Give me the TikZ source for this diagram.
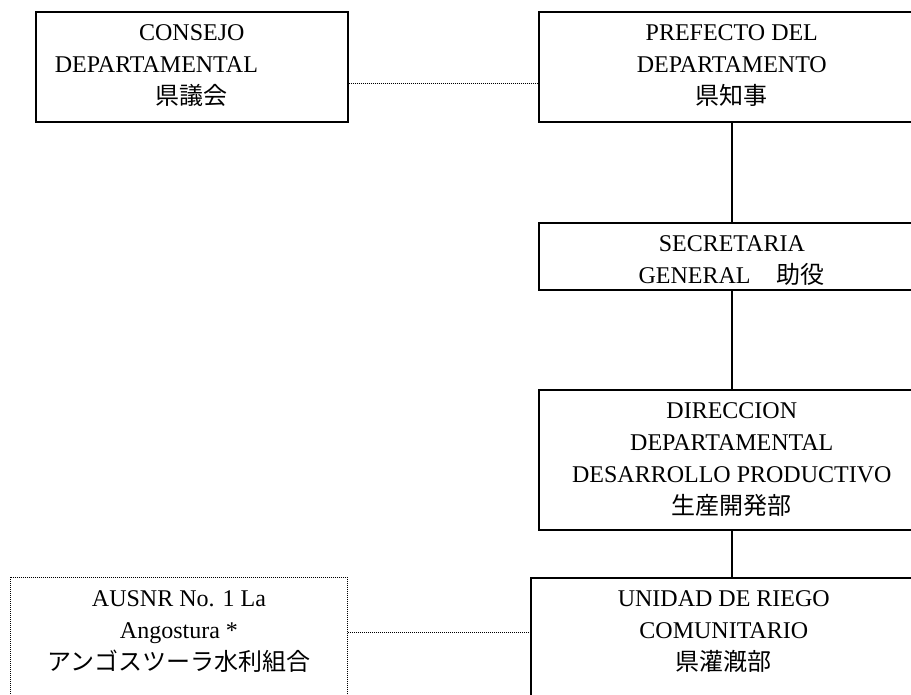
\documentclass[tikz,border=0pt]{standalone}
\usepackage{fontspec}
\setmainfont{Liberation Serif}
\newfontfamily\jp{Noto Sans CJK JP}
\usetikzlibrary{positioning}

\tikzset{
  orgbox/.style={draw, line width=1.6pt, anchor=north west, inner sep=0pt},
  userbox/.style={draw, line width=0.9pt, dash pattern=on 1pt off 1pt, anchor=north west, inner sep=0pt},
  boxtext/.style={align=center, font=\fontsize{24}{32}\selectfont, inner sep=0pt, anchor=north},
  mainlink/.style={line width=1.6pt},
  dotlink/.style={line width=0.9pt, dash pattern=on 1pt off 1pt},
}

\begin{document}
\begin{tikzpicture}[x=1pt,y=-1pt]
\useasboundingbox (0,0) rectangle (911,694);

% Upper row
\node[orgbox, minimum width=312, minimum height=110] (consejo) at (35,11) {};
\node[boxtext, below=13pt of consejo.north] (consejo-txt)
  {CONSEJO\\\makebox[274pt][l]{DEPARTAMENTAL}\\{\jp 県議会}};

\node[orgbox, minimum width=386, minimum height=110] (prefecto) at (538,11) {};
\node[boxtext, below=13pt of prefecto.north] (prefecto-txt)
  {PREFECTO DEL\\DEPARTAMENTO\\{\jp 県知事}};

% Middle chain
\node[orgbox, minimum width=386, minimum height=67] (secretaria) at (538,222) {};
\node[boxtext, below=13pt of secretaria.north] (secretaria-txt)
  {SECRETARIA\\GENERAL\hspace{1.1em}{\jp 助役}};

\node[orgbox, minimum width=386, minimum height=140] (direccion) at (538,389) {};
\node[boxtext, below=13pt of direccion.north] (direccion-txt)
  {DIRECCION\\DEPARTAMENTAL\\DESARROLLO PRODUCTIVO\\{\jp 生産開発部}};

% Lower row
\node[orgbox, minimum width=386, minimum height=150] (unidad) at (530,577) {};
\node[boxtext, below=13pt of unidad.north] (unidad-txt)
  {UNIDAD DE RIEGO\\COMUNITARIO\\{\jp 県灌漑部}};

\node[userbox, minimum width=337, minimum height=150] (ausnr) at (10,577) {};
\node[boxtext, below=13pt of ausnr.north] (ausnr-txt)
  {AUSNR No. 1 La\\Angostura *\\{\jp アンゴスツーラ水利組合}};

% Connectors
\coordinate (consejo-link) at ([yshift=-72pt]consejo.north east);
\draw[dotlink] (consejo-link) -- (consejo-link -| prefecto.west);

\draw[mainlink] (prefecto.south) -- (secretaria.north);
\draw[mainlink] (secretaria.south) -- (direccion.north);
\draw[mainlink] (direccion.south) -- (direccion.south |- unidad.north);

\coordinate (ausnr-link) at ([yshift=-55pt]ausnr.north east);
\draw[dotlink] (ausnr-link) -- (ausnr-link -| unidad.west);

\end{tikzpicture}
\end{document}
